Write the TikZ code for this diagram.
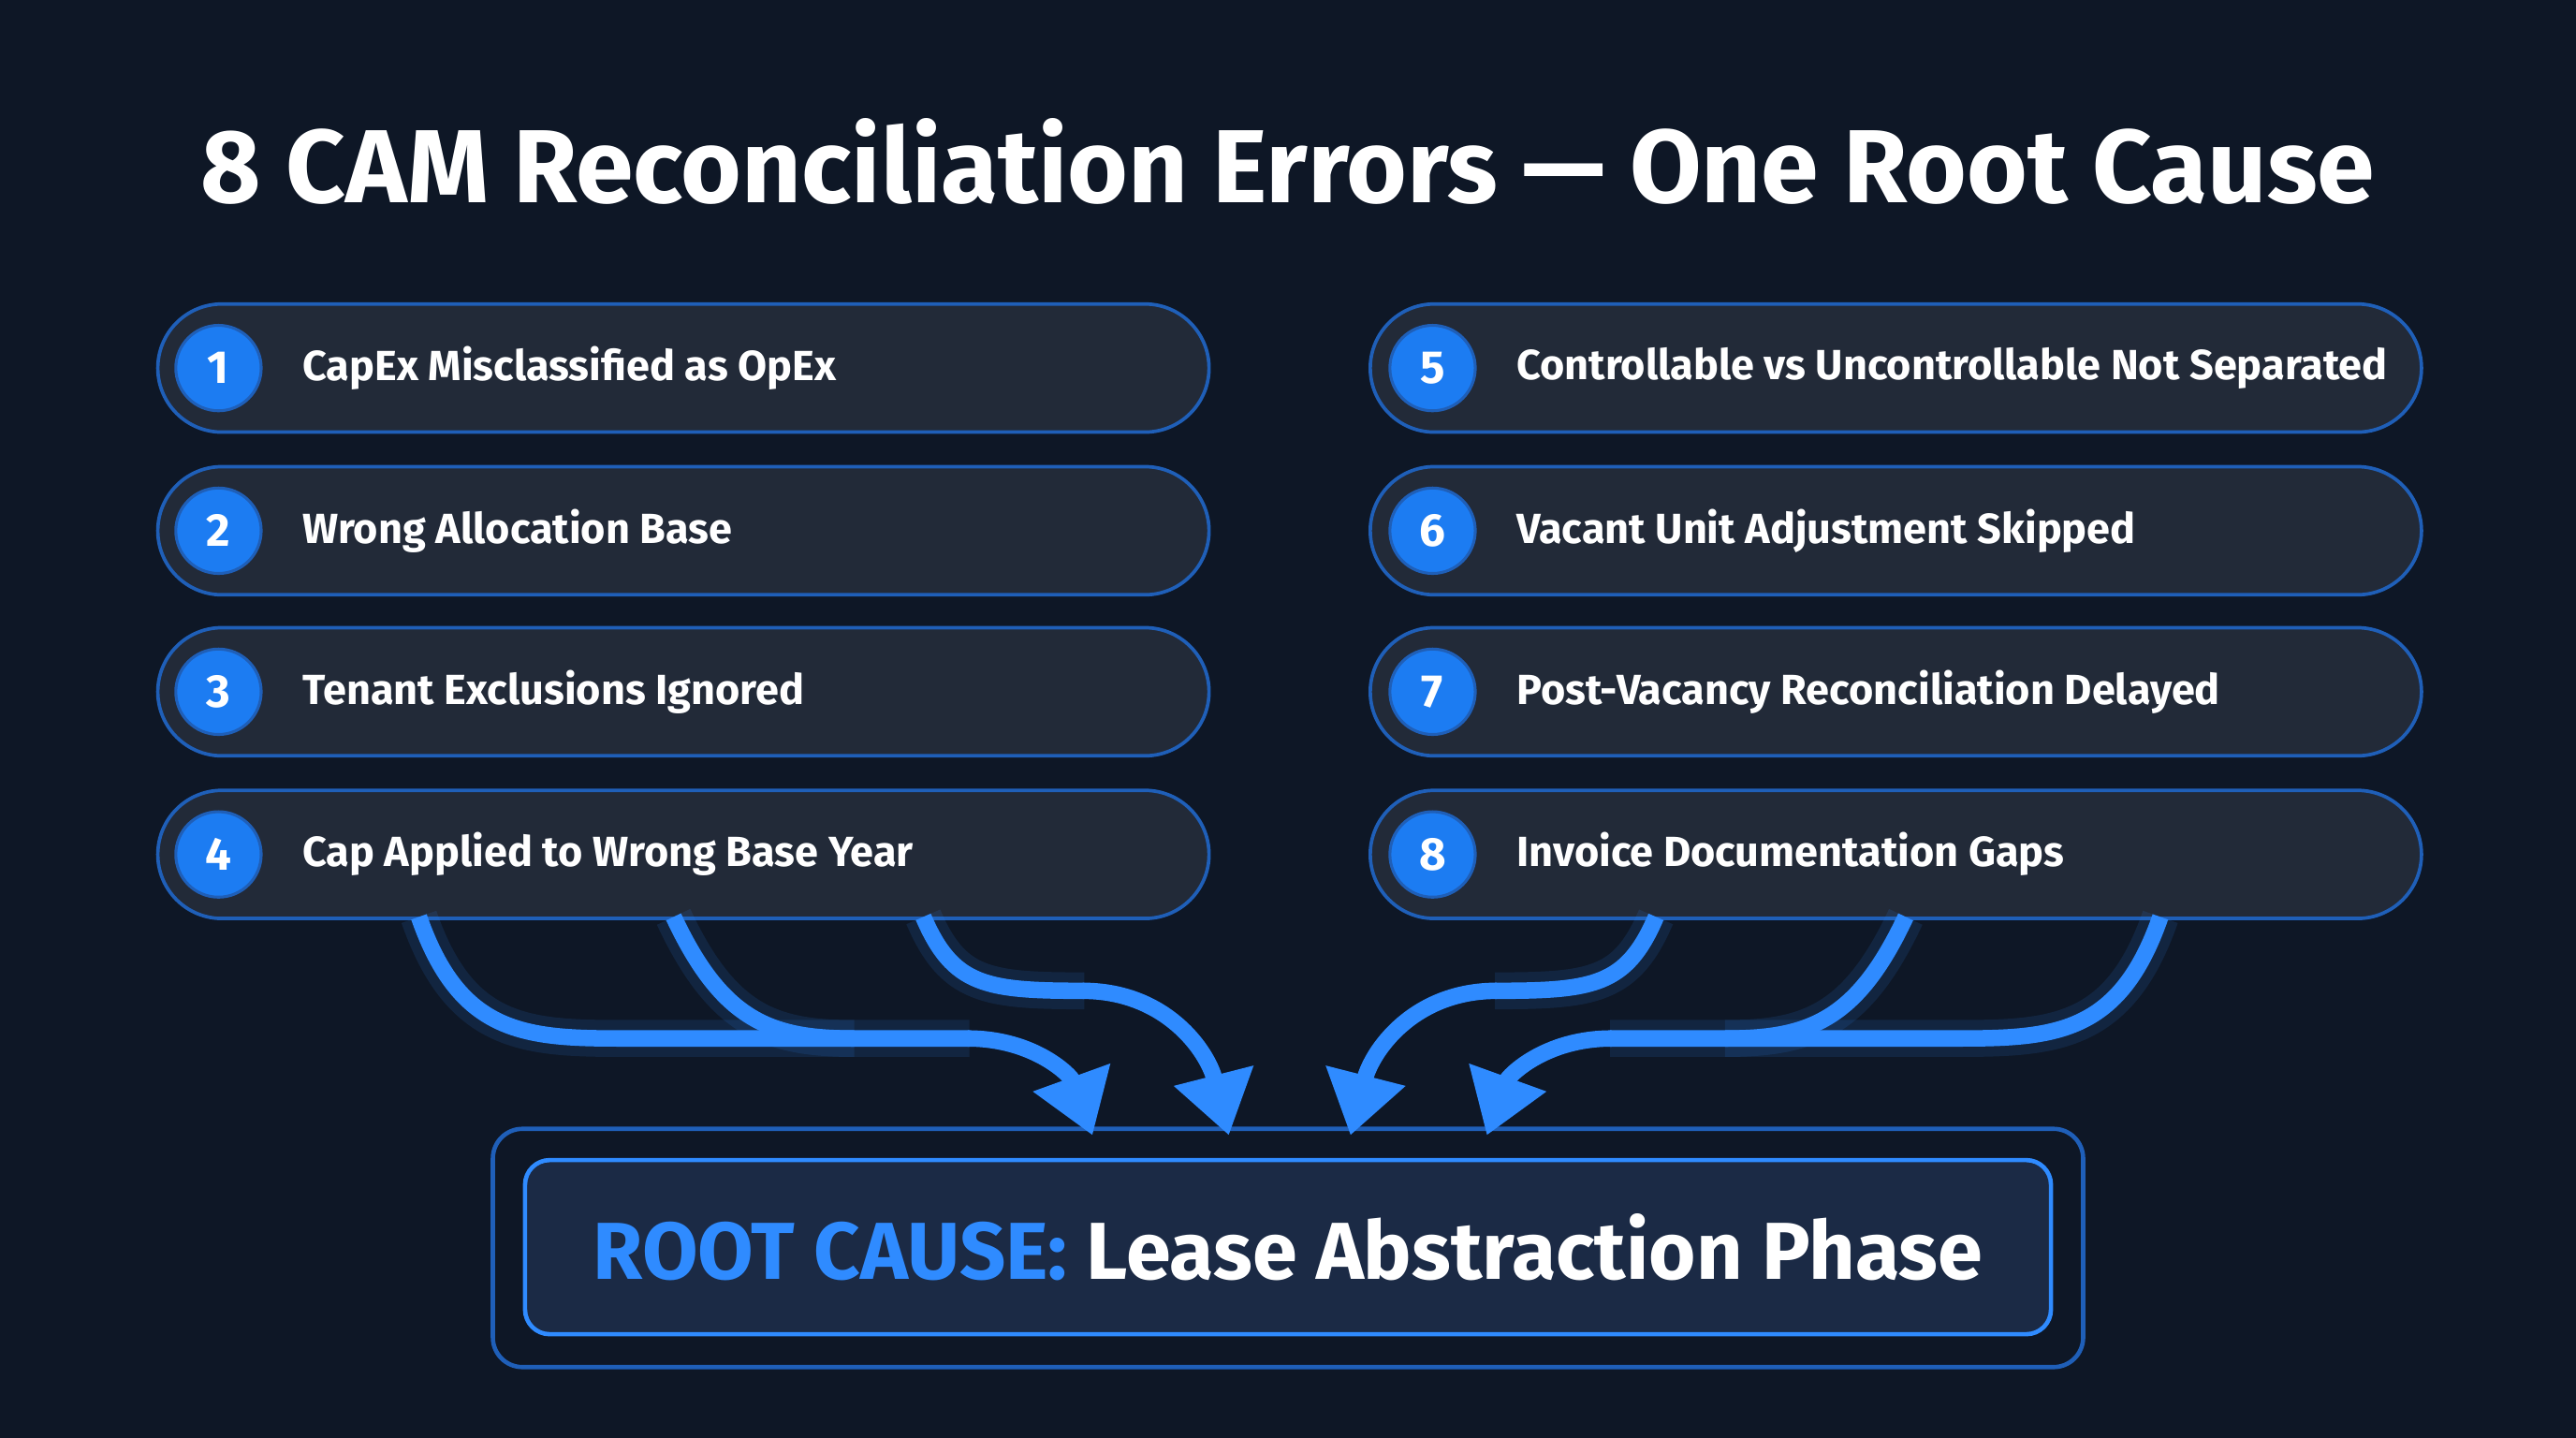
\documentclass[tikz,border=0pt]{standalone}
\usepackage{fontspec}
\setmainfont{Fira Sans}
\usetikzlibrary{positioning}
\usetikzlibrary{arrows.meta}

\definecolor{bgdark}{HTML}{0E1726}
\definecolor{pillfill}{HTML}{222A38}
\definecolor{pillline}{HTML}{1F5FB8}
\definecolor{numblue}{HTML}{1C7CF2}
\definecolor{flowblue}{HTML}{2F8BFF}
\definecolor{rootfill}{HTML}{1B2A45}

\tikzset{
	pill/.style={draw=pillline, line width=1.2pt, fill=pillfill, rounded corners=0.78cm,
		minimum width=12.8cm, minimum height=1.56cm, anchor=west},
	num/.style={circle, fill=numblue, draw=pillline, line width=1pt, minimum size=1.04cm,
		text=white, font=\fontsize{16}{18}\selectfont\bfseries},
	label/.style={text=white, anchor=west, font=\fontsize{14.6}{17}\selectfont\bfseries},
	flow/.style={draw=flowblue, line width=0.2cm},
	glow/.style={draw=flowblue, line width=0.45cm, opacity=0.12},
	tip/.style={-{Triangle[width=0.95cm,length=0.75cm]}},
}

\begin{document}
\begin{tikzpicture}[x=0.02cm, y=-0.02cm]
	\fill[bgdark] (0,0) rectangle (1568,875);
	\useasboundingbox (0,0) rectangle (1568,875);
	\node[text=white, font=\fontsize{36}{42}\selectfont\bfseries] (title) at (784,98)
		{8 CAM Reconciliation Errors --- One Root Cause};

	% error pills
	\foreach \n/\y/\txt in {1/224/CapEx Misclassified as OpEx, 2/323/Wrong Allocation Base,
		3/421/Tenant Exclusions Ignored, 4/520/Cap Applied to Wrong Base Year}{
		\node[pill] (pill\n) at (95,\y) {};
		\node[num] (num\n) at (133,\y) {\n};
		\node[label] (lab\n) at (178,\y) {\txt};
	}
	\foreach \n/\y/\txt in {5/224/Controllable vs Uncontrollable Not Separated, 6/323/Vacant Unit Adjustment Skipped,
		7/421/Post-Vacancy Reconciliation Delayed, 8/520/Invoice Documentation Gaps}{
		\node[pill] (pill\n) at (833,\y) {};
		\node[num] (num\n) at (872,\y) {\n};
		\node[label] (lab\n) at (917,\y) {\txt};
	}

	% root cause box
	\draw[draw=pillline, line width=1.5pt, rounded corners=0.36cm] (300,687) rectangle (1268,832);
	\node[draw=flowblue, line width=1.5pt, fill=rootfill, rounded corners=0.3cm,
		minimum width=18.58cm, minimum height=2.12cm] (root) at (784,759) {};
	\node[font=\fontsize{28}{33}\selectfont\bfseries] (roottext) at (root)
		{\textcolor{flowblue}{ROOT CAUSE:} \textcolor{white}{Lease Abstraction Phase}};

	% converging arrows, mirrored for both sides
	\foreach \s in {1,-1}{
		\begin{scope}[xshift=(1-\s)*785*0.02cm, xscale=\s]
			\foreach \st in {glow,flow}{
				\path[\st] (255,558) .. controls (280,630) and (320,632) .. (380,632) -- (590,632);
				\path[\st] (410,558) .. controls (440,622) and (470,632) .. (520,632);
				\path[\st] (562,558) .. controls (580,600) and (600,603) .. (660,603);
			}
			\path[flow, tip] (589,632) .. controls (630,632) and (652,655) .. (665,691);
			\path[flow, tip] (659,603) .. controls (710,603) and (735,640) .. (748,691);
		\end{scope}
	}
\end{tikzpicture}
\end{document}
